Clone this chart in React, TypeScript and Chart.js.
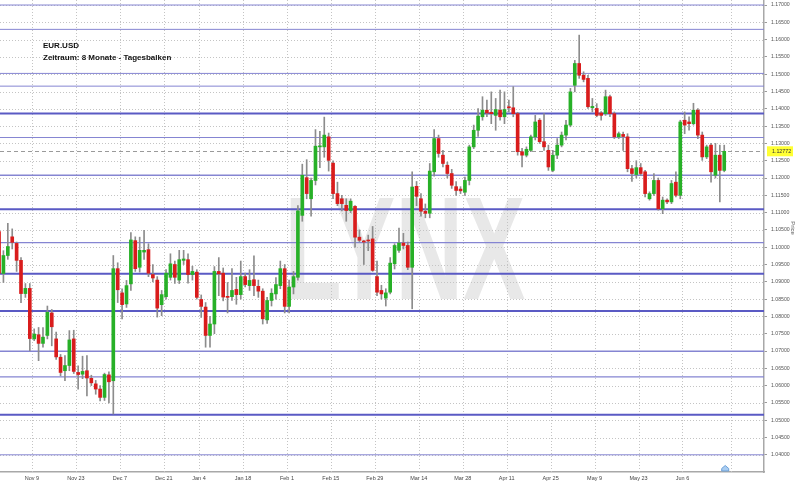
import React, { useEffect, useRef } from "react";
import { Chart, registerables } from "chart.js";
Chart.register(...registerables);

const dates = [
  "Oct 28","Oct 29","Oct 30","Nov 2","Nov 3","Nov 4","Nov 5","Nov 6","Nov 9","Nov 10",
  "Nov 11","Nov 12","Nov 13","Nov 16","Nov 17","Nov 18","Nov 19","Nov 20","Nov 23","Nov 24",
  "Nov 25","Nov 26","Nov 27","Nov 30","Dec 1","Dec 2","Dec 3","Dec 4","Dec 7","Dec 8",
  "Dec 9","Dec 10","Dec 11","Dec 14","Dec 15","Dec 16","Dec 17","Dec 18","Dec 21","Dec 22",
  "Dec 23","Dec 24","Dec 28","Dec 29","Dec 30","Dec 31","Jan 4","Jan 5","Jan 6","Jan 7",
  "Jan 8","Jan 11","Jan 12","Jan 13","Jan 14","Jan 15","Jan 18","Jan 19","Jan 20","Jan 21",
  "Jan 22","Jan 25","Jan 26","Jan 27","Jan 28","Jan 29","Feb 1","Feb 2","Feb 3","Feb 4",
  "Feb 5","Feb 8","Feb 9","Feb 10","Feb 11","Feb 12","Feb 15","Feb 16","Feb 17","Feb 18",
  "Feb 19","Feb 22","Feb 23","Feb 24","Feb 25","Feb 26","Feb 29","Mar 1","Mar 2","Mar 3",
  "Mar 4","Mar 7","Mar 8","Mar 9","Mar 10","Mar 11","Mar 14","Mar 15","Mar 16","Mar 17",
  "Mar 18","Mar 21","Mar 22","Mar 23","Mar 24","Mar 25","Mar 28","Mar 29","Mar 30","Mar 31",
  "Apr 1","Apr 4","Apr 5","Apr 6","Apr 7","Apr 8","Apr 11","Apr 12","Apr 13","Apr 14",
  "Apr 15","Apr 18","Apr 19","Apr 20","Apr 21","Apr 22","Apr 25","Apr 26","Apr 27","Apr 28",
  "Apr 29","May 2","May 3","May 4","May 5","May 6","May 9","May 10","May 11","May 12",
  "May 13","May 16","May 17","May 18","May 19","May 20","May 23","May 24","May 25","May 26",
  "May 27","May 30","May 31","Jun 1","Jun 2","Jun 3","Jun 6","Jun 7","Jun 8","Jun 9",
  "Jun 10","Jun 13","Jun 14","Jun 15","Jun 16","Jun 17"
];

const opens = [
  1.1045,1.0924,1.0976,1.1030,1.1011,1.0962,1.0866,1.0881,1.0735,1.0747,
  1.0722,1.0745,1.0810,1.0735,1.0682,1.0643,1.0658,1.0735,1.0638,1.0633,
  1.0643,1.0621,1.0605,1.0590,1.0566,1.0631,1.0614,1.0938,1.0868,1.0836,
  1.0894,1.1019,1.0942,1.0986,1.0993,1.0921,1.0905,1.0834,1.0857,1.0913,
  1.0950,1.0905,1.0962,1.0964,1.0921,1.0928,1.0849,1.0827,1.0745,1.0778,
  1.0930,1.0925,1.0858,1.0857,1.0878,1.0863,1.0915,1.0889,1.0906,1.0887,
  1.0873,1.0790,1.0846,1.0865,1.0889,1.0938,1.0829,1.0885,1.0913,1.1092,
  1.1201,1.1140,1.1193,1.1290,1.1290,1.1319,1.1243,1.1155,1.1140,1.1121,
  1.1106,1.1118,1.1029,1.1018,1.1020,1.1024,1.0915,1.0875,1.0853,1.0870,
  1.0952,1.0991,1.1012,1.1005,1.0942,1.1176,1.1140,1.1104,1.1098,1.1218,
  1.1314,1.1266,1.1237,1.1213,1.1175,1.1168,1.1159,1.1193,1.1290,1.1338,
  1.1377,1.1396,1.1390,1.1381,1.1396,1.1377,1.1406,1.1403,1.1386,1.1276,
  1.1266,1.1280,1.1319,1.1367,1.1305,1.1280,1.1222,1.1266,1.1295,1.1324,
  1.1353,1.1468,1.1531,1.1497,1.1488,1.1403,1.1401,1.1388,1.1386,1.1435,
  1.1386,1.1319,1.1326,1.1319,1.1227,1.1210,1.1230,1.1218,1.1140,1.1155,
  1.1193,1.1111,1.1136,1.1131,1.1188,1.1150,1.1367,1.1362,1.1357,1.1396,
  1.1324,1.1261,1.1295,1.1208,1.1266,1.1222
];

const highs = [
  1.1095,1.0990,1.1069,1.1053,1.1015,1.0970,1.0895,1.0895,1.0764,1.0768,
  1.0768,1.0830,1.0820,1.0755,1.0690,1.0687,1.0759,1.0760,1.0657,1.0685,
  1.0687,1.0630,1.0615,1.0600,1.0636,1.0640,1.0976,1.0955,1.0880,1.0904,
  1.1042,1.1030,1.1029,1.1049,1.1010,1.0950,1.0915,1.0875,1.0935,1.0981,
  1.0960,1.0991,1.0991,1.0981,1.0945,1.0935,1.0862,1.0840,1.0800,1.0944,
  1.0970,1.0940,1.0898,1.0938,1.0913,1.0960,1.0925,1.0935,1.0975,1.0905,
  1.0880,1.0855,1.0880,1.0912,1.0960,1.0950,1.0905,1.0930,1.1120,1.1240,
  1.1253,1.1200,1.1340,1.1335,1.1376,1.1330,1.1250,1.1188,1.1150,1.1140,
  1.1140,1.1120,1.1050,1.1020,1.1035,1.1060,1.0960,1.0890,1.0880,1.0970,
  1.1010,1.1055,1.1040,1.1015,1.1218,1.1190,1.1155,1.1125,1.1242,1.1340,
  1.1324,1.1280,1.1246,1.1225,1.1190,1.1175,1.1203,1.1295,1.1353,1.1401,
  1.1435,1.1425,1.1449,1.1430,1.1454,1.1449,1.1425,1.1464,1.1390,1.1286,
  1.1290,1.1324,1.1381,1.1372,1.1386,1.1295,1.1280,1.1314,1.1333,1.1367,
  1.1459,1.1540,1.1613,1.1507,1.1497,1.1430,1.1415,1.1392,1.1454,1.1440,
  1.1391,1.1333,1.1333,1.1328,1.1237,1.1250,1.1242,1.1222,1.1160,1.1213,
  1.1200,1.1145,1.1140,1.1193,1.1218,1.1367,1.1391,1.1377,1.1416,1.1401,
  1.1333,1.1295,1.1300,1.1300,1.1295,1.1295
];

const lows = [
  1.0920,1.0898,1.0965,1.0995,1.0930,1.0840,1.0855,1.0701,1.0730,1.0672,
  1.0711,1.0735,1.0715,1.0676,1.0628,1.0614,1.0643,1.0635,1.0590,1.0620,
  1.0570,1.0600,1.0575,1.0556,1.0557,1.0550,1.0518,1.0840,1.0793,1.0826,
  1.0875,1.0930,1.0928,1.0965,1.0915,1.0900,1.0798,1.0802,1.0850,1.0905,
  1.0895,1.0895,1.0950,1.0896,1.0905,1.0850,1.0797,1.0711,1.0711,1.0750,
  1.0860,1.0845,1.0810,1.0846,1.0835,1.0850,1.0885,1.0875,1.0860,1.0855,
  1.0778,1.0780,1.0830,1.0850,1.0880,1.0810,1.0810,1.0865,1.0905,1.1075,
  1.1140,1.1090,1.1180,1.1230,1.1260,1.1220,1.1140,1.1120,1.1105,1.1075,
  1.1100,1.1000,1.1015,1.0950,1.0990,1.0930,1.0860,1.0850,1.0830,1.0865,
  1.0937,1.0985,1.0995,1.0935,1.0822,1.1120,1.1090,1.1085,1.1085,1.1205,
  1.1260,1.1232,1.1200,1.1170,1.1150,1.1155,1.1150,1.1180,1.1285,1.1320,
  1.1367,1.1377,1.1357,1.1338,1.1367,1.1357,1.1391,1.1377,1.1266,1.1232,
  1.1261,1.1276,1.1310,1.1300,1.1280,1.1222,1.1218,1.1256,1.1290,1.1310,
  1.1348,1.1449,1.1488,1.1478,1.1401,1.1391,1.1377,1.1367,1.1381,1.1377,
  1.1314,1.1314,1.1280,1.1218,1.1190,1.1200,1.1208,1.1145,1.1136,1.1150,
  1.1107,1.1097,1.1126,1.1126,1.1145,1.1140,1.1328,1.1338,1.1353,1.1314,
  1.1251,1.1256,1.1188,1.1200,1.1131,1.1218
];

const closes = [
  1.0925,1.0976,1.1002,1.1014,1.0962,1.0866,1.0881,1.0736,1.0749,1.0722,
  1.0740,1.0812,1.0770,1.0683,1.0638,1.0658,1.0732,1.0641,1.0632,1.0641,
  1.0622,1.0608,1.0590,1.0566,1.0632,1.0611,1.0938,1.0877,1.0834,1.0889,
  1.1021,1.0938,1.0991,1.0991,1.0925,1.0911,1.0824,1.0863,1.0925,1.0952,
  1.0913,1.0964,1.0966,1.0921,1.0930,1.0855,1.0829,1.0745,1.0778,1.0930,
  1.0923,1.0856,1.0855,1.0875,1.0863,1.0915,1.0892,1.0904,1.0889,1.0873,
  1.0793,1.0846,1.0867,1.0892,1.0938,1.0829,1.0885,1.0915,1.1105,1.1208,
  1.1155,1.1193,1.1292,1.1292,1.1324,1.1251,1.1155,1.1126,1.1126,1.1106,
  1.1133,1.1029,1.1020,1.1015,1.1018,1.0933,1.0870,1.0865,1.0868,1.0954,
  1.1005,1.1012,1.1005,1.0942,1.1174,1.1147,1.1104,1.1098,1.1220,1.1314,
  1.1271,1.1242,1.1213,1.1179,1.1164,1.1163,1.1193,1.1290,1.1338,1.1379,
  1.1396,1.1388,1.1386,1.1398,1.1377,1.1398,1.1403,1.1386,1.1276,1.1266,
  1.1283,1.1319,1.1362,1.1305,1.1290,1.1232,1.1266,1.1295,1.1324,1.1353,
  1.1449,1.1531,1.1497,1.1485,1.1406,1.1407,1.1381,1.1381,1.1435,1.1386,
  1.1319,1.1328,1.1320,1.1227,1.1213,1.1230,1.1213,1.1155,1.1155,1.1193,
  1.1111,1.1136,1.1131,1.1184,1.1150,1.1362,1.1353,1.1357,1.1396,1.1324,
  1.1261,1.1290,1.1218,1.1266,1.1222,1.12772
];

const tickLabels = ["Nov 9","Nov 23","Dec 7","Dec 21","Jan 4","Jan 18","Feb 1","Feb 15","Feb 29","Mar 14","Mar 28","Apr 11","Apr 25","May 9","May 23","Jun 6"];

const priceTicks = [
  1.04,1.045,1.05,1.055,1.06,1.065,1.07,1.075,1.08,1.085,1.09,1.095,1.1,1.105,
  1.11,1.115,1.12,1.125,1.13,1.135,1.14,1.145,1.15,1.155,1.16,1.165,1.17
];

const levelPrices = [1.17,1.16296,1.15023,1.14655,1.13864,1.1317,1.12078,1.11094,1.1013,1.09232,1.08155,1.06991,1.06253,1.05159,1.04];
const levelWidths = [1,1,1,1,2,1,1.5,2,1.2,2,2,1.5,1.3,2,1];

const FONT = '"Liberation Sans", Arial, sans-serif';
const UP = "#27b027";
const DOWN = "#d91c1c";

export default function App() {
  const ref = useRef<HTMLCanvasElement | null>(null);

  useEffect(() => {
    document.body.style.margin = "0";
    const canvas = ref.current;
    if (!canvas) return;

    const bodies = dates.map((_, i) => ({ x: i, y: [Math.min(opens[i], closes[i]), Math.max(opens[i], closes[i])] }));
    const wicks = dates.map((_, i) => ({ x: i, y: [lows[i], highs[i]] }));
    const bodyColors = dates.map((_, i) => (closes[i] >= opens[i] ? UP : DOWN));
    const xTickValues = tickLabels.map((l) => dates.indexOf(l) - 0.5);
    const extraGrid = [dates.length + 0.5];
    const last = closes[closes.length - 1];

    const background = {
      id: "background",
      beforeDatasetsDraw(chart: any) {
        const { ctx, chartArea: a, scales } = chart;
        const xs = scales.x, ys = scales.y;
        ctx.save();
        ctx.beginPath();
        ctx.rect(a.left, a.top, a.right - a.left, a.bottom - a.top);
        ctx.clip();
        // watermark
        ctx.font = `bold 146px ${FONT}`;
        const w = ctx.measureText("LYNX").width;
        const target = (a.right - a.left) * 0.315;
        ctx.save();
        ctx.translate(a.left + (a.right - a.left) * 0.53, a.top + (a.bottom - a.top) * 0.633);
        ctx.scale(target / w, 1);
        ctx.fillStyle = "#e8e8e8";
        ctx.textAlign = "center";
        ctx.textBaseline = "alphabetic";
        ctx.fillText("LYNX", 0, 0);
        ctx.restore();
        // dotted grid
        ctx.strokeStyle = "#c4c4c4";
        ctx.lineWidth = 1;
        ctx.setLineDash([1, 2]);
        priceTicks.forEach((p) => {
          const y = Math.round(ys.getPixelForValue(p)) + 0.5;
          ctx.beginPath(); ctx.moveTo(a.left, y); ctx.lineTo(a.right, y); ctx.stroke();
        });
        [...xTickValues, ...extraGrid].forEach((v) => {
          const x = Math.round(xs.getPixelForValue(v)) + 0.5;
          ctx.beginPath(); ctx.moveTo(x, a.top); ctx.lineTo(x, a.bottom); ctx.stroke();
        });
        ctx.setLineDash([]);
        // blue levels
        levelPrices.forEach((p, i) => {
          const lw = levelWidths[i];
          const y = ys.getPixelForValue(p);
          ctx.strokeStyle = lw >= 2 ? "#5a5ac4" : "#8585d2";
          ctx.lineWidth = lw;
          ctx.beginPath(); ctx.moveTo(a.left, y); ctx.lineTo(a.right, y); ctx.stroke();
        });
        // last price dashed line
        const yl = Math.round(ys.getPixelForValue(last)) + 0.5;
        ctx.strokeStyle = "#9a9a9a";
        ctx.lineWidth = 1;
        ctx.setLineDash([4, 3]);
        ctx.beginPath(); ctx.moveTo(a.left, yl); ctx.lineTo(a.right, yl); ctx.stroke();
        ctx.setLineDash([]);
        ctx.restore();
      },
      afterDraw(chart: any) {
        const { ctx, chartArea: a, scales } = chart;
        const xs = scales.x, ys = scales.y;
        ctx.save();
        // title
        ctx.fillStyle = "#111";
        ctx.font = `bold 8px ${FONT}`;
        ctx.textAlign = "left";
        ctx.textBaseline = "alphabetic";
        ctx.fillText("EUR.USD", a.left + 43, a.top + 48);
        ctx.fillText("Zeitraum: 8 Monate - Tagesbalken", a.left + 43, a.top + 60);
        // last price label
        const yl = ys.getPixelForValue(last);
        ctx.fillStyle = "#ffff33";
        ctx.fillRect(a.right + 3, yl - 5, 26, 10);
        ctx.fillStyle = "#333";
        ctx.font = `5.3px ${FONT}`;
        ctx.textBaseline = "middle";
        ctx.fillText(last.toFixed(5), a.right + 8, yl + 0.5);
        // axis title
        ctx.save();
        ctx.translate(a.right + 29, (a.top + a.bottom) / 2 - 8);
        ctx.rotate(Math.PI / 2);
        ctx.textAlign = "center";
        ctx.fillStyle = "#555";
        ctx.font = `6px ${FONT}`;
        ctx.fillText("Price", 0, 0);
        ctx.restore();
        // marker at last bar
        const mx = xs.getPixelForValue(dates.length - 1) + 1;
        const my = a.bottom - 1;
        ctx.fillStyle = "#a9cdf2";
        ctx.strokeStyle = "#6b9fd6";
        ctx.lineWidth = 1;
        ctx.beginPath();
        ctx.moveTo(mx - 3.5, my);
        ctx.lineTo(mx - 3.5, my - 2.5);
        ctx.lineTo(mx, my - 5.5);
        ctx.lineTo(mx + 3.5, my - 2.5);
        ctx.lineTo(mx + 3.5, my);
        ctx.closePath();
        ctx.fill();
        ctx.stroke();
        ctx.restore();
      },
    };

    const chart = new Chart(canvas, {
      type: "bar",
      data: {
        datasets: [
          {
            label: "body",
            data: bodies as any,
            backgroundColor: bodyColors,
            borderWidth: 0,
            barThickness: 3,
            minBarLength: 1,
            grouped: false,
            order: 0,
          },
          {
            label: "wick",
            data: wicks as any,
            backgroundColor: "#8c8c8c",
            borderWidth: 0,
            barThickness: 1,
            grouped: false,
            order: 1,
          },
        ],
      },
      options: {
        animation: false,
        responsive: true,
        maintainAspectRatio: false,
        events: [],
        layout: { padding: 0 },
        plugins: { legend: { display: false }, tooltip: { enabled: false }, title: { display: false } },
        scales: {
          x: {
            type: "linear",
            position: "bottom",
            offset: false,
            min: 0.22,
            max: 174.05,
            afterBuildTicks: (s: any) => { s.ticks = xTickValues.map((v) => ({ value: v })); },
            afterFit: (s: any) => { s.height = 14; s.paddingLeft = 0; s.paddingRight = 0; },
            ticks: {
              autoSkip: false,
              maxRotation: 0,
              padding: 3,
              color: "#444",
              font: { size: 5.5, family: FONT },
              callback: (_v: any, i: number) => tickLabels[i],
            },
            grid: { display: false, drawTicks: false, tickLength: 0 },
            border: { display: true, color: "#a8a8a8", width: 1.5 },
          },
          y: {
            type: "linear",
            position: "right",
            min: 1.03503,
            max: 1.17145,
            afterBuildTicks: (s: any) => { s.ticks = priceTicks.map((v) => ({ value: v })); },
            afterFit: (s: any) => { s.width = 36; s.paddingTop = 0; s.paddingBottom = 0; },
            ticks: {
              padding: 4,
              color: "#555",
              font: { size: 5.2, family: FONT },
              callback: (v: any) => Number(v).toFixed(5),
            },
            grid: { display: true, drawOnChartArea: false, drawTicks: true, tickLength: 3, color: "#9a9a9a" },
            border: { display: true, color: "#a8a8a8", width: 1.5 },
          },
        },
      },
      plugins: [background],
    });

    return () => chart.destroy();
  }, []);

  return (
    <div style={{ position: "relative", width: 800, height: 486, background: "#fff" }}>
      <canvas ref={ref} />
    </div>
  );
}
